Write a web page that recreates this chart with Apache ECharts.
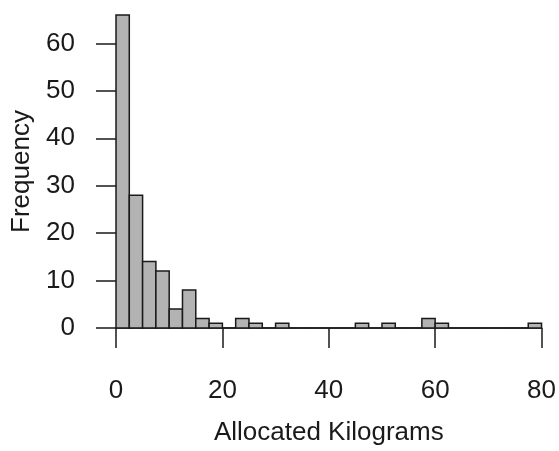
<!DOCTYPE html>
<html>
<head>
<meta charset="utf-8">
<script src="https://cdn.jsdelivr.net/npm/echarts@6/dist/echarts.min.js"></script>
<style>
html, body { margin: 0; padding: 0; background: #fff; }
#main { width: 559px; height: 451px; }
</style>
</head>
<body>
<div id="main"></div>
<script>
// histogram bins (kg), width 2.5
var binWidth = 2.5;
var binStarts = [];
for (var i = 0; i < 32; i++) { binStarts.push(i * binWidth); }
var counts = [66, 28, 14, 12, 4, 8, 2, 1,
	0, 2, 1, 0, 1, 0, 0, 0,
	0, 0, 1, 0, 1, 0, 0, 2,
	1, 0, 0, 0, 0, 0, 0, 1];
var xTicks = [0, 20, 40, 60, 80];
var yTicks = [0, 10, 20, 30, 40, 50, 60];

var histData = [];
for (var j = 0; j < counts.length; j++) {
	histData.push([binStarts[j], binStarts[j] + binWidth, counts[j]]);
}

var font = 'Liberation Sans, Arial, Helvetica, sans-serif';
var myChart = echarts.init(document.getElementById('main'));

var option = {
	animation: false,
	backgroundColor: '#fff',
	grid: { left: 116, right: 17, top: 15, bottom: 121 },
	xAxis: {
		type: 'value',
		min: 0,
		max: 80,
		interval: 20,
		name: 'Allocated Kilograms',
		nameLocation: 'middle',
		nameGap: 92,
		nameTextStyle: { fontFamily: font, fontSize: 26, color: '#1a1a1a' },
		splitLine: { show: false },
		axisLine: { show: true, lineStyle: { color: '#1a1a1a', width: 1.5 } },
		axisTick: { show: true, length: 20, customValues: xTicks, lineStyle: { color: '#1a1a1a', width: 1.5 } },
		axisLabel: { margin: 50, customValues: xTicks, fontFamily: font, fontSize: 26, color: '#1a1a1a' }
	},
	yAxis: {
		type: 'value',
		min: 0,
		max: 66,
		name: 'Frequency',
		nameLocation: 'middle',
		nameGap: 80,
		nameTextStyle: { fontFamily: font, fontSize: 26, color: '#1a1a1a' },
		splitLine: { show: false },
		axisLine: { show: false },
		axisTick: { show: true, length: 20, customValues: yTicks, lineStyle: { color: '#1a1a1a', width: 1.5 } },
		axisLabel: { margin: 41, customValues: yTicks, fontFamily: font, fontSize: 26, color: '#1a1a1a' }
	},
	series: [{
		type: 'custom',
		data: histData,
		encode: { x: [0, 1], y: 2 },
		renderItem: function(params, api) {
			var p0 = api.coord([api.value(0), 0]);
			var p1 = api.coord([api.value(1), api.value(2)]);
			return {
				type: 'rect',
				shape: { x: p0[0], y: p1[1], width: p1[0] - p0[0], height: p0[1] - p1[1] },
				style: { fill: '#b3b3b3', stroke: '#1a1a1a', lineWidth: 1.5 }
			};
		}
	}]
};

myChart.setOption(option);
</script>
</body>
</html>
